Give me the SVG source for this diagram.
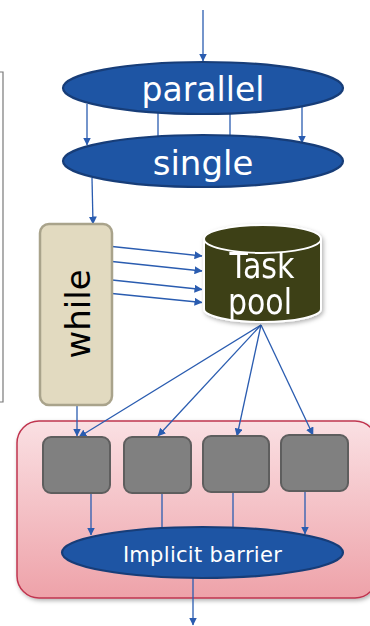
<svg xmlns="http://www.w3.org/2000/svg" width="370" height="626" viewBox="0 0 370 626">
<defs>
<marker id="ah" viewBox="0 0 8 8" refX="7.5" refY="4" markerWidth="8" markerHeight="8" markerUnits="userSpaceOnUse" orient="auto">
<path d="M0,0 L8,4 L0,8 z" fill="#2a5cb0"/>
</marker>
<linearGradient id="pink" x1="0" y1="0" x2="0" y2="1">
<stop offset="0" stop-color="#fae0e3"/>
<stop offset="1" stop-color="#eea2a9"/>
</linearGradient>
<filter id="sh" x="-10%" y="-10%" width="130%" height="130%">
<feDropShadow dx="1.5" dy="2" stdDeviation="2" flood-color="#000" flood-opacity="0.3"/>
</filter>
</defs>
<style>
.el{fill:#1e55a4;stroke:#173d78;stroke-width:2.2}
.wt{fill:#fff;font-family:"DejaVu Sans",Verdana,sans-serif;text-anchor:middle}
.ln{stroke:#2a5cb0;stroke-width:1.3;fill:none}
.ar{stroke:#2a5cb0;stroke-width:1.3;fill:none;marker-end:url(#ah)}
.wk{fill:#808080;stroke:#5e5e5e;stroke-width:2}
</style>

<g id="frame">
<path d="M0,72 H3 V402 H0" fill="none" stroke="#7a7a7a" stroke-width="1.2"/>
</g>

<g id="region">
<rect x="17" y="421" width="360" height="177" rx="22" fill="url(#pink)" stroke="#c0354f" stroke-width="1.5" filter="url(#sh)"/>
</g>

<g id="connectors">
<line class="ar" x1="203" y1="10" x2="203" y2="61"/>
<line class="ar" x1="87" y1="104" x2="87" y2="145"/>
<line class="ln" x1="158" y1="104" x2="158" y2="145"/>
<line class="ln" x1="230" y1="98" x2="230" y2="145"/>
<line class="ar" x1="302" y1="98" x2="302" y2="143"/>
<line class="ar" x1="92" y1="178" x2="93" y2="224"/>
<line class="ar" x1="112" y1="246.5" x2="202" y2="256"/>
<line class="ar" x1="112" y1="261.5" x2="202" y2="271"/>
<line class="ar" x1="112" y1="280" x2="202" y2="289.5"/>
<line class="ar" x1="112" y1="293.5" x2="202" y2="302.5"/>
<line class="ar" x1="77" y1="406" x2="77" y2="436"/>
<line class="ar" x1="261" y1="325" x2="79" y2="437"/>
<line class="ar" x1="261" y1="325" x2="158" y2="436"/>
<line class="ar" x1="261" y1="325" x2="237" y2="436"/>
<line class="ar" x1="261" y1="325" x2="313" y2="435"/>
<line class="ar" x1="91" y1="489" x2="91" y2="535"/>
<line class="ln" x1="162" y1="489" x2="162" y2="535"/>
<line class="ln" x1="233" y1="489" x2="233" y2="535"/>
<line class="ar" x1="305" y1="489" x2="305" y2="534"/>
<line class="ar" x1="193" y1="578" x2="193" y2="625"/>
</g>

<g id="parallel">
<ellipse class="el" cx="203" cy="88" rx="140" ry="26"/>
<text class="wt" x="203" y="101" font-size="33">parallel</text>
</g>

<g id="single">
<ellipse class="el" cx="203" cy="161" rx="140" ry="26"/>
<text class="wt" x="203" y="175" font-size="34">single</text>
</g>

<g id="while">
<rect x="40" y="224" width="72" height="181" rx="9" fill="#e2dac0" stroke="#a9a38b" stroke-width="2.5"/>
<text x="0" y="0" transform="translate(90,314) rotate(-90)" font-family="DejaVu Sans,Verdana,sans-serif" font-size="34" text-anchor="middle" fill="#000">while</text>
</g>

<g id="taskpool" filter="url(#sh)">
<path d="M204,239 V309 A58.5,13 0 0 0 321,309 V239" fill="#3c3f17" stroke="#fff" stroke-width="2"/>
<text class="wt" x="262" y="278" font-size="35" textLength="65" lengthAdjust="spacingAndGlyphs">Task</text>
<text class="wt" x="260" y="314" font-size="35" textLength="64" lengthAdjust="spacingAndGlyphs">pool</text>
<ellipse cx="262.5" cy="239" rx="58.5" ry="14" fill="#3c3f17" stroke="#fff" stroke-width="2"/>
</g>

<g id="w1"><rect class="wk" x="43" y="437" width="67" height="56" rx="8"/></g>
<g id="w2"><rect class="wk" x="124" y="437" width="67" height="56" rx="8"/></g>
<g id="w3"><rect class="wk" x="203" y="436" width="66" height="56" rx="8"/></g>
<g id="w4"><rect class="wk" x="281" y="435" width="67" height="56" rx="8"/></g>

<g id="barrier">
<ellipse class="el" cx="202.5" cy="552.5" rx="140.5" ry="25.5"/>
<text class="wt" x="202.5" y="562" font-size="21" letter-spacing="0.3">Implicit barrier</text>
</g>
</svg>
